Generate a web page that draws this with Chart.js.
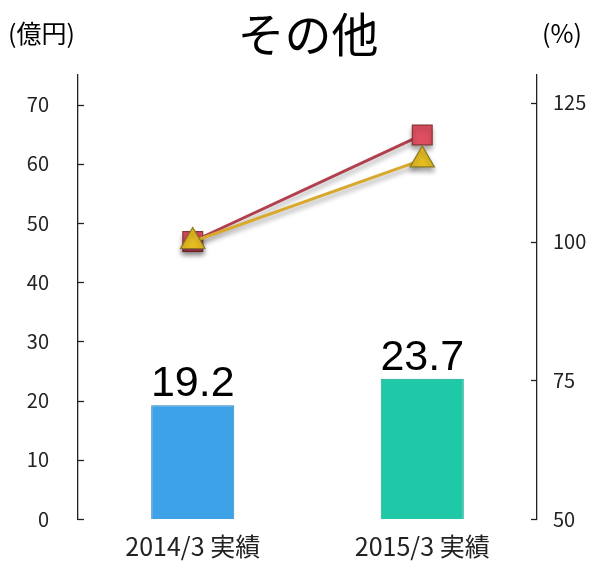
<!DOCTYPE html>
<html>
<head>
<meta charset="utf-8">
<script src="https://cdn.jsdelivr.net/npm/chart.js@4/dist/chart.umd.min.js"></script>
<style>
  html, body { margin: 0; padding: 0; background: #fff; }
  #wrap { width: 590px; height: 563px; }
</style>
</head>
<body>
<div id="wrap"><canvas id="chart"></canvas></div>
<script>
const categories = ["2014/3 実績", "2015/3 実績"];
const salesValues = [19.2, 23.7];      // 億円
const redRatio = [100, 119.2];         // %
const yellowRatio = [100, 114.7];      // %
const leftTicks = [0, 10, 20, 30, 40, 50, 60, 70];
const rightTicks = [50, 75, 100, 125];

const jpFont = "'Noto Sans CJK JP', 'DejaVu Sans', sans-serif";

// inward tick marks, title / unit texts and bar values
const decorations = {
  id: "decorations",
  afterDraw(chart) {
    const ctx = chart.ctx;
    const area = chart.chartArea;
    const yl = chart.scales.y;
    const yr = chart.scales.y2;

    ctx.save();
    ctx.strokeStyle = "#222";
    ctx.lineWidth = 1.3;
    leftTicks.forEach((v) => {
      const y = Math.round(yl.getPixelForValue(v)) + 0.5;
      ctx.beginPath();
      ctx.moveTo(area.left, y);
      ctx.lineTo(area.left + 6, y);
      ctx.stroke();
    });
    rightTicks.forEach((v) => {
      const y = Math.round(yr.getPixelForValue(v)) + 0.5;
      ctx.beginPath();
      ctx.moveTo(area.right - 6, y);
      ctx.lineTo(area.right, y);
      ctx.stroke();
    });

    ctx.fillStyle = "#000";
    ctx.textBaseline = "middle";
    ctx.textAlign = "center";
    ctx.font = "47px " + jpFont;
    ctx.fillText("その他", 308, 34);
    ctx.font = "25px " + jpFont;
    ctx.textAlign = "left";
    ctx.fillText("(億円)", 8, 33);
    ctx.fillText("(%)", 542, 33);

    // bar values
    const meta = chart.getDatasetMeta(2);
    ctx.font = "43px 'Liberation Sans', Arial, sans-serif";
    ctx.textAlign = "center";
    ctx.textBaseline = "alphabetic";
    meta.data.forEach((bar, i) => {
      ctx.fillText(salesValues[i].toFixed(1), bar.x, bar.y - 9);
    });
    ctx.restore();
  },
};

const shadow = {
  id: "shadow",
  beforeDatasetDraw(chart, args) {
    if (args.meta.type !== "line") return;
    const ctx = chart.ctx;
    ctx.save();
    ctx.shadowColor = "rgba(0,0,0,0.35)";
    ctx.shadowBlur = 5;
    ctx.shadowOffsetY = 4;
  },
  afterDatasetDraw(chart, args) {
    if (args.meta.type !== "line") return;
    chart.ctx.restore();
  },
};

const tickFont = { family: jpFont, size: 20 };

new Chart(document.getElementById("chart"), {
  type: "bar",
  data: {
    labels: categories,
    datasets: [
      {
        type: "line",
        data: yellowRatio,
        yAxisID: "y2",
        order: 1,
        borderColor: "#d9a92e",
        borderWidth: 3,
        pointStyle: "triangle",
        pointRadius: 14,
        pointBackgroundColor: "#e6bd22",
        pointBorderColor: "#8a7a22",
        pointBorderWidth: 1.2,
      },
      {
        type: "line",
        data: redRatio,
        yAxisID: "y2",
        order: 2,
        borderColor: "#b23f4d",
        borderWidth: 3,
        pointStyle: "rect",
        pointRadius: 14,
        pointBackgroundColor: "#de4f62",
        pointBorderColor: "#8a3434",
        pointBorderWidth: 1.2,
      },
      {
        type: "bar",
        data: salesValues,
        yAxisID: "y",
        order: 3,
        backgroundColor: ["#3da2e7", "#1fc9a8"],
        borderColor: ["#2f7fb8", "#179e84"],
        borderWidth: 1,
        categoryPercentage: 1,
        barPercentage: 0.362,
      },
    ],
  },
  options: {
    responsive: true,
    maintainAspectRatio: false,
    animation: false,
    layout: { padding: { top: 75, left: 0, right: 0, bottom: 0 } },
    plugins: {
      legend: { display: false },
      tooltip: { enabled: false },
    },
    scales: {
      x: {
        grid: { display: false, drawTicks: false },
        border: { display: false },
        ticks: { color: "#222", font: { family: jpFont, size: 25 }, padding: 12 },
        afterFit: (s) => { s.height = 44; },
      },
      y: {
        position: "left",
        min: 0,
        max: 75,
        grid: { display: false, drawTicks: false },
        border: { display: true, color: "#222", width: 1.3 },
        ticks: { color: "#222", font: tickFont, padding: 29 },
        afterBuildTicks: (s) => { s.ticks = leftTicks.map((v) => ({ value: v })); },
        afterFit: (s) => { s.width = 78; },
      },
      y2: {
        position: "right",
        min: 50,
        max: 130,
        grid: { display: false, drawTicks: false },
        border: { display: true, color: "#222", width: 1.3 },
        ticks: { color: "#222", font: tickFont, padding: 16 },
        afterBuildTicks: (s) => { s.ticks = rightTicks.map((v) => ({ value: v })); },
        afterFit: (s) => { s.width = 53; },
      },
    },
  },
  plugins: [shadow, decorations],
});
</script>
</body>
</html>
